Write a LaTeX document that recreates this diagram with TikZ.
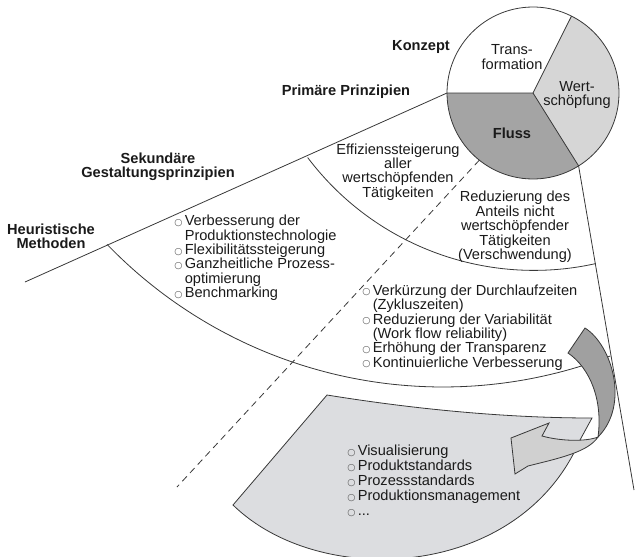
\documentclass[tikz,border=0pt]{standalone}
\usepackage{fontspec}
\setmainfont{Liberation Sans}
\newfontfamily\symf{DejaVu Sans}
\definecolor{linec}{HTML}{383838}
\definecolor{txtc}{HTML}{1A1A1A}
\definecolor{bulc}{HTML}{555555}
\definecolor{dgrey}{HTML}{A4A4A4}
\definecolor{lgrey}{HTML}{D6D6D6}
\definecolor{shapec}{HTML}{DCDDE0}
\definecolor{arrd}{HTML}{A0A0A0}
\definecolor{arrl}{HTML}{D0D0D0}
\newcommand\fsz{\fontsize{10.95pt}{10.8pt}\selectfont}
\newcommand\fszb{\fontsize{10.95pt}{11.3pt}\selectfont}
\newcommand\bul{\makebox[0.72em][l]{\raisebox{0.02em}{\symf\fontsize{7pt}{7pt}\selectfont\color{bulc}○}}}
\newcommand\ind{\hspace*{0.72em}}
\begin{document}
\begin{tikzpicture}[x=0.75pt,y=-0.75pt,
  ln/.style={line width=0.6pt, draw=linec},
  base/.style={inner sep=0pt, text=txtc},
  txt/.style={base, font=\fsz, align=center},
  btxt/.style={base, font=\fsz\bfseries, align=center},
  lst/.style={base, font=\fsz, align=left, anchor=west}]
\useasboundingbox (0,0) rectangle (636,557);

% named points
\coordinate (C) at (533,93);
\coordinate (T1) at (447,93);
\coordinate (T2) at (571.5,16.1);
\coordinate (T3) at (578.6,165.9);
\coordinate (LL) at (25,282);
\coordinate (RL) at (634,490);
\coordinate (D1) at (479.3,160.2);
\coordinate (D2) at (177,487);

% circle sectors
\fill[lgrey] (C) -- plot[domain=-63.4:58,samples=40] ({533+86*cos(\x)},{93+86*sin(\x)}) -- cycle;
\fill[dgrey] (C) -- plot[domain=58:180,samples=40] ({533+86*cos(\x)},{93+86*sin(\x)}) -- cycle;
\draw[ln] plot[domain=0:360,samples=120] ({533+86*cos(\x)},{93+86*sin(\x)}) -- cycle;
\draw[ln] (T1) -- (C) -- (T2);
\draw[ln] (C) -- (T3);

% fan lines
\draw[ln] (T1) -- (LL);
\draw[ln] plot[domain=143:77.4,samples=60] ({534+283.4*cos(\x)},{-13+283.4*sin(\x)});
\draw[ln] plot[domain=136:69,samples=80] ({443+467*cos(\x)},{-80+467*sin(\x)});
\draw[ln, dash pattern=on 5pt off 3.5pt] (D1) -- (D2);

% grey sheet
\coordinate (G1) at (327,395);
\coordinate (G2) at (592,418);
\coordinate (G3) at (580,440);
\coordinate (G4) at (233,505);
\draw[ln, fill=shapec] (G1) .. controls (420,410) and (510,418) .. (G2) -- (G3)
  .. controls (520,580) and (320,590) .. (G4) -- cycle;

% curved arrow
\coordinate (A1) at (585,328);
\coordinate (A2) at (598,437);
\coordinate (A3) at (568,353);
\coordinate (N1) at (542,436);
\coordinate (B1) at (549,423);
\coordinate (TP) at (511,438);
\coordinate (B2) at (515,474);
\coordinate (N2) at (528,466);
\draw[ln, fill=arrd] (A1) .. controls (612,345) and (630,405) .. (A2)
  .. controls (603,400) and (590,368) .. (A3) -- cycle;
\draw[ln, fill=arrl] (A2) .. controls (588,452) and (560,458) .. (N2) -- (B2) -- (TP) -- (B1) -- (N1)
  .. controls (560,441) and (585,442) .. (A2) -- cycle;

% right boundary line
\draw[ln] (T3) -- (RL);

% labels
\node[btxt] (konzept) at (421,47) {Konzept};
\node[btxt] (prim) at (346,92) {Primäre Prinzipien};
\node[btxt] (sek) at (158,167) {Sekundäre\\Gestaltungsprinzipien};
\node[btxt] (heur) at (51,236) {Heuristische\\Methoden};
\node[txt] (trans) at (512,57) {Trans-\\formation};
\node[txt] (wert) at (577,95) {Wert-\\schöpfung};
\node[btxt] (fluss) at (512,133) {Fluss};
\node[txt] (eff) at (398,172) {Effizienssteigerung\\aller\\wertschöpfenden\\Tätigkeiten};
\node[txt] (red) at (515,227) {Reduzierung des\\Anteils nicht\\wertschöpfender\\Tätigkeiten\\(Verschwendung)};

\node[lst] (list1) at (174,258) {\bul Verbesserung der\\\ind Produktionstechnologie\\\bul Flexibilitätssteigerung\\\bul Ganzheitliche Prozess-\\\ind optimierung\\\bul Benchmarking};
\node[lst] (list2) at (362,327.5) {\bul Verkürzung der Durchlaufzeiten\\\ind (Zykluszeiten)\\\bul Reduzierung der Variabilität\\\ind (Work flow reliability)\\\bul Erhöhung der Transparenz\\\bul Kontinuierliche Verbesserung};
\node[lst, font=\fszb] (list3) at (347,481) {\bul Visualisierung\\\bul Produktstandards\\\bul Prozessstandards\\\bul Produktionsmanagement\\\bul ...};
\end{tikzpicture}
\end{document}
